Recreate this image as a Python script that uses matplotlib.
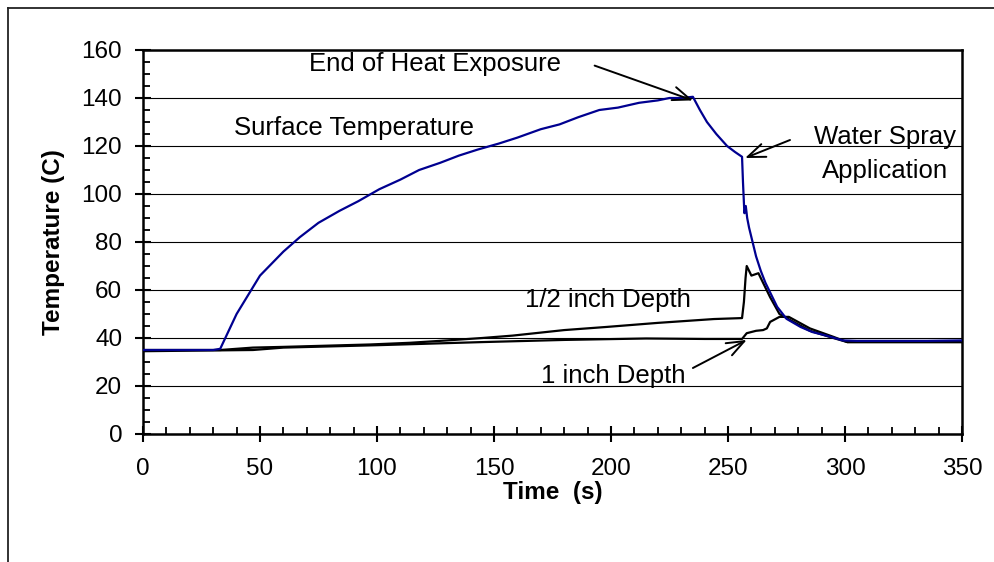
import matplotlib
matplotlib.use("Agg")
import matplotlib.pyplot as plt
from matplotlib.lines import Line2D
from matplotlib.ticker import MultipleLocator

plt.rcParams['font.family'] = ['Liberation Sans', 'DejaVu Sans']

# ---- data ----
surf_t = [0, 10, 20, 30, 33, 40, 50, 60, 67, 75, 84, 92, 101, 110, 118, 127, 135, 143,
          152, 160, 170, 178, 186, 195, 203, 212, 220, 225, 230, 235, 238, 241, 245,
          249.6, 253, 256, 256.4, 257, 257.6, 258.2, 259, 260, 261, 262, 264, 266, 268,
          271, 275, 281, 286, 292, 299, 305, 320, 335, 350]
surf_T = [35, 35, 35, 35, 35.5, 50, 66, 76, 82, 88, 93, 97, 102, 106, 110, 113, 116, 118.5,
          121, 123.5, 127, 129, 132, 135, 136, 138, 139, 140, 140, 140.5, 135, 130, 125,
          120, 117.5, 115.5, 105, 92, 95, 90, 86, 82, 78, 74, 68, 63, 59,
          53, 48, 44.6, 42.5, 41, 39, 38.8, 38.8, 38.8, 39]

half_t = [0, 33, 47, 60, 97, 114, 130, 145, 158, 180, 198, 220, 244, 256, 256.8, 257.5,
          258, 259, 260, 263, 265, 268, 272, 276.5, 285, 295, 301, 350]
half_T = [35, 35, 36, 36.3, 37.3, 38, 39, 40, 41, 43.3, 44.6, 46.3, 47.9, 48.3, 55, 65,
          70, 68, 66, 67, 63, 57, 50, 47.5, 43, 40, 38.3, 38.3]

one_t = [0, 47, 60, 100, 145, 180, 215, 240, 256, 258, 262, 265, 266.6, 268, 272, 276,
         285, 295, 301, 350]
one_T = [34.5, 35, 36, 37, 38.3, 39.2, 39.8, 39.6, 39.6, 42, 43, 43.3, 44, 46.7, 48.8,
         48.8, 44, 40.5, 38.3, 38.3]

x_ticks = [0, 50, 100, 150, 200, 250, 300, 350]
y_ticks = [0, 20, 40, 60, 80, 100, 120, 140, 160]

fig = plt.figure(figsize=(9.95, 5.62), dpi=100)
ax = fig.add_axes([143/995, 1-434/562, (962-143)/995, (434-50)/562])

ax.plot(half_t, half_T, color='black', lw=1.6, zorder=3)
ax.plot(one_t, one_T, color='black', lw=1.6, zorder=3)
ax.plot(surf_t, surf_T, color='#000090', lw=1.6, zorder=4)

ax.set_xlim(0, 350)
ax.set_ylim(0, 160)
ax.set_xticks(x_ticks)
ax.set_yticks(y_ticks)
ax.xaxis.set_minor_locator(MultipleLocator(10))
ax.yaxis.set_minor_locator(MultipleLocator(5))
ax.grid(axis='y', which='major', color='black', lw=0.8, zorder=1)
ax.set_axisbelow(True)
for s in ax.spines.values():
    s.set_linewidth(1.8)
ax.tick_params(which='major', direction='inout', length=12, width=1.5, labelsize=17.5)
ax.tick_params(axis='y', which='major', pad=9)
ax.tick_params(axis='x', which='major', pad=11)
ax.tick_params(which='minor', direction='in', length=5, width=1.3)

ax.set_xlabel('Time  (s)', fontsize=17.5, fontweight='bold', labelpad=1)
ax.set_ylabel('Temperature (C)', fontsize=17.5, fontweight='bold', labelpad=12)

fs = 18.5
ax.text(124.8, 154.2, 'End of Heat Exposure', fontsize=fs, ha='center', va='center')
ax.text(90.2, 127.5, 'Surface Temperature', fontsize=fs, ha='center', va='center')
ax.text(317, 116.7, 'Water Spray\nApplication', fontsize=fs, ha='center', va='center',
        linespacing=1.5, multialignment='center')
ax.text(198.7, 55.8, '1/2 inch Depth', fontsize=fs, ha='center', va='center')
ax.text(200.9, 24.2, '1 inch Depth', fontsize=fs, ha='center', va='center')

ap = dict(arrowstyle='->,head_length=0.9,head_width=0.35', mutation_scale=14,
          color='black', lw=1.4, shrinkA=0, shrinkB=0)
ax.annotate('', xy=(235, 139), xytext=(193, 153.5), arrowprops=ap, zorder=5)
ax.annotate('', xy=(257.3, 115), xytext=(276.5, 122.5), arrowprops=ap, zorder=5)
ax.annotate('', xy=(258, 39.2), xytext=(235, 27.5), arrowprops=ap, zorder=5)

# outer chart-area border (top and left edges visible)
fig.add_artist(Line2D([8/995, 1.0], [1-8/562, 1-8/562], transform=fig.transFigure,
                      color='#222222', lw=1.3))
fig.add_artist(Line2D([8/995, 8/995], [0, 1-8/562], transform=fig.transFigure,
                      color='#222222', lw=1.3))

fig.savefig('out.png', dpi=100)
